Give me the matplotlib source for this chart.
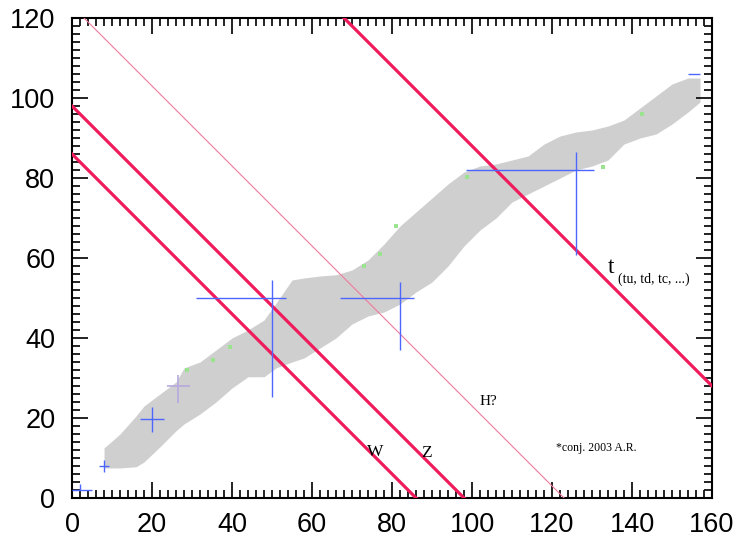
import matplotlib.pyplot as plt
from matplotlib.ticker import MultipleLocator

band_x = [8, 12, 16, 18, 22, 26, 28, 32, 36, 40, 44, 48, 51, 55, 58, 62, 66, 70, 74, 78,
          82, 86, 90, 94, 98, 102, 106, 110, 114, 118, 122, 126, 130, 134, 138, 142, 146, 150, 154, 157]
band_hi = [12.5, 16, 20.5, 23, 26, 29, 32.5, 34, 37, 40, 42, 44.5, 48.7, 54.5, 55, 55.5, 55.8, 57, 59.5, 63.5,
           68, 71.5, 75, 78.5, 81.5, 83, 83.5, 84.5, 85.5, 88.5, 90.5, 91.5, 92, 93, 94.5, 97.5, 100.5, 103.5, 105, 105]
band_lo = [7.5, 7.5, 7.8, 9, 12.8, 16.8, 18.5, 21, 24, 27.5, 30.3, 30.3, 32.5, 34, 35, 37.5, 40, 43.5, 45.5, 46.5,
           48.5, 51.5, 54, 58, 63, 67, 70, 74, 76, 78, 80, 82, 83, 84.5, 88.5, 90, 91, 93.5, 96.5, 99]

# green fringe points along the band edge
fringe_x = [28.7, 35.3, 39.5, 73, 77, 81, 98.7, 132.8, 142.4]
fringe_y = [32, 34.5, 37.8, 58, 61, 68, 80.3, 82.8, 96]

# blue crosses: centre, x-range, y-range
cross_x = [2, 8, 20, 50, 82, 126, 155.5]
cross_y = [2, 8, 19.7, 50, 50, 82, 106]
cross_xlo = [0, 6.8, 17, 31, 67, 98.5, 154]
cross_xhi = [5, 9.2, 23, 53.5, 85.5, 130.5, 157]
cross_ylo = [2, 6.5, 16.6, 25.3, 37, 60.8, 106]
cross_yhi = [3.6, 9.5, 22.8, 54.5, 54, 86.6, 106]

# lines x + y = const
thick_sums = [86, 98, 188]
thin_sums = [123]

fig = plt.figure(figsize=(7.38, 5.46), dpi=100)
ax = fig.add_axes([0.0976, 0.088, 0.8672, 0.879])

ax.fill_between(band_x, band_lo, band_hi, color='#cfcfcf', lw=0, zorder=1)
ax.scatter(fringe_x, fringe_y, s=6, marker='s', color='#9be38f', lw=0, zorder=2)

# faint lavender cross
ax.errorbar([26.5], [28], xerr=[[2.8], [3]], yerr=[[4.2], [2.8]], fmt='none',
            ecolor='#b8a8e0', elinewidth=1.2, capsize=0, zorder=2)

xe = [[c - lo for c, lo in zip(cross_x, cross_xlo)], [hi - c for c, hi in zip(cross_x, cross_xhi)]]
ye = [[c - lo for c, lo in zip(cross_y, cross_ylo)], [hi - c for c, hi in zip(cross_y, cross_yhi)]]
ax.errorbar(cross_x, cross_y, xerr=xe, yerr=ye, fmt='none', ecolor='#4d66ff',
            elinewidth=1.0, capsize=0, zorder=4, clip_on=True)

for s in thick_sums:
    ax.axline((0, s), slope=-1, color='#ee1c5c', lw=2.3, zorder=3)
for s in thin_sums:
    ax.axline((0, s), slope=-1, color='#f07a9a', lw=0.8, zorder=3)

serif = 'Liberation Serif'
ax.text(75.75, 11.5, 'W', family=serif, fontsize=12.5, ha='center', va='center')
ax.text(88.7, 11.3, 'Z', family=serif, fontsize=12.5, ha='center', va='center')
ax.text(104, 24, 'H?', family=serif, fontsize=11, ha='center', va='center')
ax.text(134, 57.5, 't', family=serif, fontsize=17, ha='left', va='center')
ax.text(136.4, 54.8, '(tu, td, tc, ...)', family=serif, fontsize=10, ha='left', va='center')
ax.text(131, 12.5, '*conj. 2003 A.R.', family=serif, fontsize=8.5, ha='center', va='center')

ax.set_xlim(0, 160)
ax.set_ylim(0, 120)
ax.xaxis.set_major_locator(MultipleLocator(20))
ax.xaxis.set_minor_locator(MultipleLocator(2))
ax.yaxis.set_major_locator(MultipleLocator(20))
ax.yaxis.set_minor_locator(MultipleLocator(2))
ax.tick_params(which='both', direction='in', top=True, right=True, width=1.3, color='#111111')
ax.tick_params(which='major', length=11.5, labelsize=19.5)
ax.tick_params(axis='x', which='major', pad=10)
ax.tick_params(axis='y', which='major', pad=12)
ax.tick_params(which='minor', length=6)
for lab in ax.get_xticklabels() + ax.get_yticklabels():
    lab.set_family('Liberation Sans')
for sp in ax.spines.values():
    sp.set_linewidth(1.5)

fig.savefig('out.png', dpi=100)
